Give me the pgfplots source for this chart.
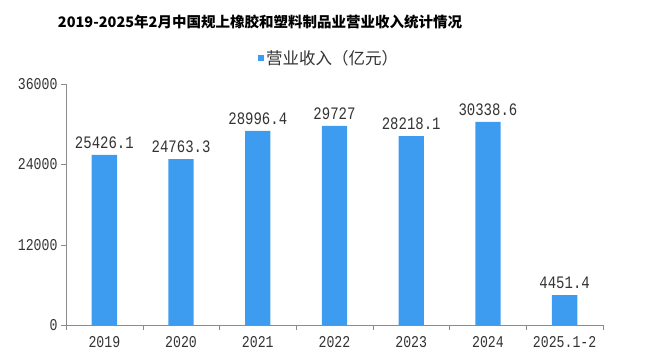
\documentclass[border=0pt]{standalone}
\usepackage{pgfplots}
\pgfplotsset{compat=1.18}
\usepackage{fontspec}
\setmainfont{Liberation Serif}
\newfontfamily\cjk{Noto Sans CJK SC}
\newfontfamily\numf{Liberation Mono}[FakeStretch=0.8]
\definecolor{barblue}{HTML}{3D9CF0}
\definecolor{axgray}{HTML}{8C8C8C}
\begin{document}
\begin{tikzpicture}
\useasboundingbox (0pt,0pt) rectangle (651pt,-355pt);
\node[font=\cjk\bfseries\fontsize{14.5}{16}\selectfont] at (260pt,-22pt) {2019-2025年2月中国规上橡胶和塑料制品业营业收入统计情况};
\begin{axis}[
  at={(66pt,-325pt)}, anchor=south west,
  scale only axis, width=537pt, height=241pt,
  xmin=-0.5, xmax=6.5, ymin=0, ymax=36000,
  axis x line*=bottom, axis y line*=left,
  axis line style={axgray},
  xtick={0,...,6},
  xticklabels={2019,2020,2021,2022,2023,2024,2025.1-2},
  minor xtick={-0.5,0.5,...,6.5},
  major x tick style={draw=none},
  minor x tick style={axgray},
  minor tick length=5pt,
  ytick={0,12000,24000,36000},
  y tick style={axgray},
  major tick length=5pt,
  tick align=outside,
  scaled y ticks=false,
  yticklabel style={/pgf/number format/1000 sep={}, /pgf/number format/assume math mode=true, font=\numf\fontsize{16.5}{17}\selectfont, text=black!80},
  xticklabel style={font=\numf\fontsize{16.5}{17}\selectfont, text=black!80, yshift=-3pt},
  ybar, bar width=0.33,
  nodes near coords,
  nodes near coords style={font=\numf\fontsize{17.5}{18}\selectfont, yshift=3pt, text=black!80},
  point meta=explicit symbolic,
  legend style={at={(0.49,1.108)}, anchor=center, draw=none, font=\cjk\fontsize{16.5}{17}\selectfont, legend cell align=left, text=black!80},
  legend image code/.code={\fill[barblue] (0pt,-3pt) rectangle (6pt,3pt);},
]
\addplot[fill=barblue, draw=none] coordinates {
 (0,25426.1) [25426.1]
 (1,24763.3) [24763.3]
 (2,28996.4) [28996.4]
 (3,29727) [29727]
 (4,28218.1) [28218.1]
 (5,30338.6) [30338.6]
 (6,4451.4) [4451.4]
};
\addlegendentry{营业收入（亿元）}
\end{axis}
\end{tikzpicture}
\end{document}
